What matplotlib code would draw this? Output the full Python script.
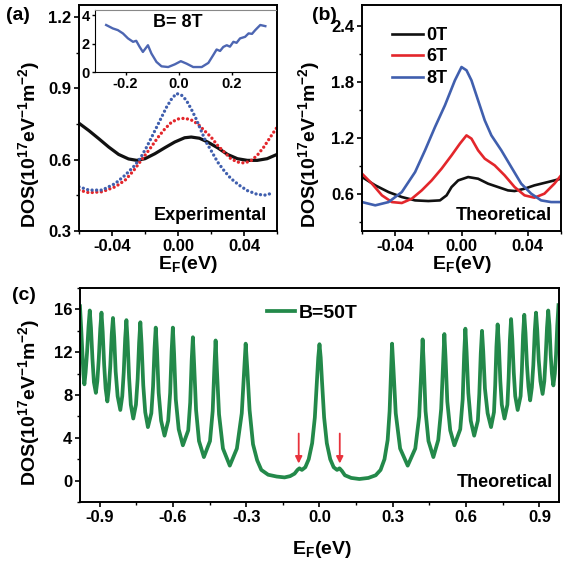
import matplotlib
matplotlib.use('Agg')
import matplotlib.pyplot as plt
from matplotlib.ticker import MultipleLocator, FormatStrFormatter

plt.rcParams['font.family'] = ['Liberation Sans', 'DejaVu Sans']
plt.rcParams['font.weight'] = 'bold'
plt.rcParams['mathtext.fontset'] = 'custom'
plt.rcParams['mathtext.rm'] = 'Liberation Sans:bold'
plt.rcParams['mathtext.it'] = 'Liberation Sans:bold'
plt.rcParams['mathtext.bf'] = 'Liberation Sans:bold'
plt.rcParams['mathtext.default'] = 'rm'

# (a) experimental DOS near the Dirac point
a_x0 = [-0.060, -0.054, -0.048, -0.042, -0.036, -0.030, -0.025, -0.020, -0.014, -0.008, -0.002,
        0.004, 0.008, 0.013, 0.018, 0.024, 0.030, 0.036, 0.042, 0.048, 0.054, 0.060]
a_y0 = [0.753, 0.722, 0.688, 0.653, 0.622, 0.603, 0.597, 0.604, 0.625, 0.650, 0.674,
        0.692, 0.695, 0.690, 0.674, 0.650, 0.622, 0.604, 0.597, 0.597, 0.604, 0.622]
a_x6 = [-0.060, -0.054, -0.046, -0.038, -0.032, -0.027, -0.022, -0.017, -0.012, -0.008, -0.004,
        0.000, 0.004, 0.008, 0.012, 0.016, 0.020, 0.024, 0.028, 0.032, 0.036, 0.040, 0.044,
        0.048, 0.052, 0.056, 0.060]
a_y6 = [0.472, 0.461, 0.465, 0.486, 0.514, 0.553, 0.600, 0.646, 0.695, 0.729, 0.757,
        0.771, 0.774, 0.767, 0.750, 0.722, 0.695, 0.660, 0.632, 0.604, 0.590, 0.586, 0.594,
        0.618, 0.653, 0.695, 0.736]
a_x8 = [-0.060, -0.054, -0.046, -0.038, -0.032, -0.027, -0.023, -0.019, -0.015, -0.011, -0.007,
        -0.004, -0.001, 0.002, 0.005, 0.008, 0.011, 0.014, 0.017, 0.020, 0.024, 0.028, 0.032,
        0.037, 0.042, 0.048, 0.053, 0.058]
a_y8 = [0.486, 0.472, 0.472, 0.500, 0.535, 0.570, 0.604, 0.653, 0.708, 0.764, 0.820,
        0.854, 0.878, 0.872, 0.850, 0.813, 0.771, 0.722, 0.674, 0.639, 0.590, 0.553, 0.521,
        0.493, 0.470, 0.454, 0.451, 0.461]

# inset, B = 8T over a wide range
in_x = [-0.273, -0.248, -0.229, -0.210, -0.191, -0.172, -0.160, -0.147, -0.135, -0.116, -0.103,
        -0.084, -0.065, -0.040, -0.015, 0.0075, 0.029, 0.054, 0.086, 0.111, 0.129, 0.142, 0.155,
        0.167, 0.180, 0.192, 0.205, 0.217, 0.230, 0.249, 0.262, 0.275, 0.287, 0.306, 0.325]
in_y = [3.30, 3.06, 2.94, 2.71, 2.36, 2.12, 2.19, 1.76, 1.41, 1.88, 1.30,
        0.71, 0.40, 0.35, 0.54, 0.76, 0.59, 0.35, 0.35, 0.64, 1.18, 1.58, 1.48,
        1.76, 1.88, 1.78, 2.12, 2.05, 2.36, 2.47, 2.71, 2.68, 2.94, 3.30, 3.22]

# (b) theoretical DOS
b_x0 = [-0.060, -0.052, -0.044, -0.036, -0.028, -0.020, -0.013, -0.009, -0.006, -0.002, 0.004,
        0.010, 0.016, 0.022, 0.028, 0.032, 0.038, 0.044, 0.052, 0.060]
b_y0 = [0.778, 0.689, 0.617, 0.564, 0.528, 0.521, 0.528, 0.582, 0.671, 0.742, 0.778,
        0.760, 0.707, 0.671, 0.635, 0.628, 0.653, 0.689, 0.724, 0.760]
b_x6 = [-0.060, -0.054, -0.048, -0.042, -0.036, -0.030, -0.024, -0.018, -0.012, -0.006, -0.001,
        0.003, 0.006, 0.010, 0.014, 0.020, 0.026, 0.032, 0.038, 0.044, 0.050, 0.056, 0.060]
b_y6 = [0.814, 0.707, 0.582, 0.510, 0.500, 0.546, 0.635, 0.742, 0.868, 1.010, 1.135,
        1.224, 1.189, 1.064, 0.975, 0.903, 0.796, 0.671, 0.582, 0.557, 0.600, 0.707, 0.796]
b_x8 = [-0.060, -0.052, -0.044, -0.036, -0.028, -0.022, -0.016, -0.010, -0.004, 0.000, 0.003,
        0.006, 0.010, 0.014, 0.018, 0.024, 0.030, 0.036, 0.042, 0.048, 0.054, 0.060]
b_y8 = [0.510, 0.475, 0.510, 0.617, 0.831, 1.064, 1.313, 1.546, 1.813, 1.956, 1.921,
        1.813, 1.599, 1.385, 1.224, 1.064, 0.885, 0.707, 0.600, 0.528, 0.510, 0.510]

# (c) theoretical DOS at B = 50T, traced point by point
c_x = [-0.980, -0.975, -0.970, -0.966, -0.962,
       -0.957, -0.951, -0.945, -0.940, -0.935, -0.929, -0.923, -0.915,
       -0.909, -0.903, -0.897, -0.892, -0.887, -0.881, -0.875, -0.868,
       -0.862, -0.856, -0.850, -0.845, -0.840, -0.834, -0.826, -0.815,
       -0.807, -0.801, -0.795, -0.790, -0.785, -0.779, -0.772, -0.762,
       -0.751, -0.744, -0.738, -0.733, -0.728, -0.721, -0.713, -0.702,
       -0.688, -0.681, -0.675, -0.670, -0.665, -0.658, -0.648, -0.634,
       -0.619, -0.611, -0.605, -0.600, -0.595, -0.588, -0.576, -0.559,
       -0.537, -0.529, -0.523, -0.518, -0.513, -0.505, -0.493, -0.473,
       -0.448, -0.437, -0.430, -0.425, -0.420, -0.411, -0.395, -0.367,
       -0.338, -0.318, -0.309, -0.302, -0.295, -0.286, -0.272, -0.255,
       -0.238, -0.210, -0.175, -0.143, -0.120, -0.102, -0.090, -0.082,
       -0.072, -0.058, -0.044, -0.030, -0.019, -0.010, -0.005, 0.000,
       0.005, 0.010, 0.019, 0.030, 0.044, 0.058, 0.072, 0.082,
       0.092, 0.104, 0.130, 0.163, 0.200, 0.230, 0.250, 0.266,
       0.279, 0.287, 0.292, 0.297, 0.303, 0.312, 0.330, 0.361,
       0.392, 0.408, 0.417, 0.422, 0.427, 0.434, 0.446, 0.466,
       0.486, 0.498, 0.506, 0.511, 0.516, 0.523, 0.535, 0.552,
       0.576, 0.586, 0.592, 0.597, 0.602, 0.609, 0.619, 0.633,
       0.648, 0.654, 0.660, 0.665, 0.670, 0.677, 0.688, 0.702,
       0.714, 0.719, 0.724, 0.729, 0.734, 0.740, 0.746, 0.757,
       0.769, 0.774, 0.779, 0.784, 0.789, 0.795, 0.801, 0.811,
       0.823, 0.828, 0.833, 0.838, 0.843, 0.849, 0.855, 0.862,
       0.869, 0.875, 0.881, 0.886, 0.891, 0.897, 0.904, 0.913,
       0.920, 0.925, 0.931, 0.936, 0.941, 0.946, 0.951, 0.957,
       0.963, 0.968, 0.973, 0.978]
c_y = [16.3, 14.2, 11.8, 10.0, 9.0,
       10.1, 12.0, 14.4, 15.9, 14.3, 11.4, 9.2, 8.2,
       9.3, 11.4, 14.2, 15.7, 13.9, 10.8, 8.6, 7.4,
       8.6, 10.7, 13.7, 15.2, 13.4, 10.2, 7.9, 6.6,
       7.9, 10.1, 13.3, 15.0, 13.0, 9.6, 7.1, 5.8,
       7.1, 9.5, 12.9, 14.8, 12.8, 8.9, 6.4, 5.0,
       6.3, 8.8, 12.3, 14.3, 12.2, 8.2, 5.6, 4.2,
       5.6, 8.2, 12.1, 14.3, 11.9, 7.6, 4.8, 3.3,
       4.7, 7.3, 11.2, 13.4, 10.9, 6.6, 3.7, 2.2,
       3.7, 6.5, 10.6, 13.1, 10.5, 6.2, 3.0, 1.4,
       3.0, 6.3, 10.0, 12.8, 10.3, 6.6, 3.4, 1.9,
       1.0, 0.55, 0.38, 0.3, 0.42, 0.65, 1.0, 1.15,
       1.0, 1.25, 2.0, 3.5, 5.9, 9.4, 11.5, 12.75,
       11.5, 9.4, 5.9, 3.5, 2.0, 1.25, 1.0, 1.15,
       0.9, 0.5, 0.25, 0.15, 0.25, 0.5, 1.0, 2.0,
       3.8, 6.5, 9.8, 12.8, 10.3, 6.3, 3.0, 1.4,
       3.0, 6.0, 10.4, 13.2, 10.7, 6.5, 3.7, 2.2,
       3.8, 6.7, 11.0, 13.7, 11.4, 7.4, 4.7, 3.3,
       4.8, 7.6, 11.8, 14.2, 12.0, 8.2, 5.6, 4.2,
       5.6, 8.1, 11.9, 14.0, 12.1, 8.6, 6.3, 5.0,
       6.4, 8.9, 12.5, 14.6, 12.7, 9.3, 7.1, 5.8,
       7.1, 9.6, 13.1, 15.1, 13.2, 10.1, 7.9, 6.6,
       7.9, 10.2, 13.6, 15.5, 13.8, 10.8, 8.8, 7.5,
       8.7, 10.8, 14.0, 15.7, 14.1, 11.3, 9.3, 8.1,
       9.3, 11.3, 14.3, 15.9, 14.5, 11.8, 10.0, 8.9,
       10.0, 11.8, 14.5, 16.4]
arrow_x = [-0.085, 0.083]

black = '#111111'
red = '#e3262b'
blue = '#405fae'
green = '#23894a'

fig = plt.figure(figsize=(5.66, 5.64), dpi=100)
ax_a = fig.add_axes([0.1396, 0.5904, 0.3498, 0.4007])
ax_b = fig.add_axes([0.6396, 0.5904, 0.3516, 0.4007])
ax_c = fig.add_axes([0.1413, 0.1099, 0.8463, 0.3794])
ax_in = fig.add_axes([0.1678, 0.8723, 0.3198, 0.1099])

dots = (0, (0.01, 1.35))
ax_a.plot(a_x0, a_y0, color=black, lw=2.3, solid_capstyle='round')
ax_a.plot(a_x6, a_y6, color=red, lw=2.4, ls=dots, dash_capstyle='round')
ax_a.plot(a_x8, a_y8, color=blue, lw=2.4, ls=dots, dash_capstyle='round')
ax_a.set_xlim(-0.06, 0.06)
ax_a.set_ylim(0.3, 1.25)
ax_a.xaxis.set_major_locator(MultipleLocator(0.04))
ax_a.xaxis.set_minor_locator(MultipleLocator(0.02))
ax_a.xaxis.set_major_formatter(FormatStrFormatter('%.2f'))
ax_a.yaxis.set_major_locator(MultipleLocator(0.3))
ax_a.yaxis.set_minor_locator(MultipleLocator(0.15))
ax_a.yaxis.set_major_formatter(FormatStrFormatter('%.1f'))
ax_a.text(0.95, 0.03, 'Experimental', transform=ax_a.transAxes, ha='right', va='bottom',
          fontsize=13, fontweight='bold')

ax_in.plot(in_x, in_y, color='#4d66b2', lw=1.7, solid_joinstyle='round')
ax_in.set_xlim(-0.315, 0.365)
ax_in.set_ylim(0, 4.35)
ax_in.xaxis.set_major_locator(MultipleLocator(0.2))
ax_in.xaxis.set_major_formatter(FormatStrFormatter('%.1f'))
ax_in.yaxis.set_major_locator(MultipleLocator(2))
ax_in.tick_params(labelsize=10.5, length=2.5, width=1, pad=1)
ax_in.spines['right'].set_visible(False)
ax_in.spines['top'].set_color('#888888')
ax_in.text(0.46, 0.8, 'B= 8T', transform=ax_in.transAxes, ha='center', va='center',
           fontsize=13, fontweight='bold')

ax_b.plot(b_x0, b_y0, color=black, lw=1.9, label='0T')
ax_b.plot(b_x6, b_y6, color=red, lw=1.9, label='6T')
ax_b.plot(b_x8, b_y8, color=blue, lw=1.9, label='8T')
ax_b.set_xlim(-0.06, 0.06)
ax_b.set_ylim(0.2, 2.62)
ax_b.xaxis.set_major_locator(MultipleLocator(0.04))
ax_b.xaxis.set_minor_locator(MultipleLocator(0.02))
ax_b.xaxis.set_major_formatter(FormatStrFormatter('%.2f'))
ax_b.yaxis.set_major_locator(MultipleLocator(0.6))
ax_b.yaxis.set_minor_locator(MultipleLocator(0.3))
ax_b.yaxis.set_major_formatter(FormatStrFormatter('%.1f'))
ax_b.legend(loc='upper left', bbox_to_anchor=(0.07, 0.975), frameon=False, fontsize=13,
            handlelength=1.7, handletextpad=0.2, labelspacing=0.25)
ax_b.text(0.955, 0.03, 'Theoretical', transform=ax_b.transAxes, ha='right', va='bottom',
          fontsize=13, fontweight='bold')

ax_c.plot(c_x, c_y, color=green, lw=2.7, label='B=50T', solid_joinstyle='round')
for xa in arrow_x:
    ax_c.annotate('', xy=(xa, 1.6), xytext=(xa, 4.4),
                  arrowprops=dict(arrowstyle='-|>', color='#e8323c', lw=1.3,
                                  mutation_scale=10, shrinkA=0, shrinkB=0))
ax_c.set_xlim(-0.98, 0.98)
ax_c.set_ylim(-2, 18)
ax_c.xaxis.set_major_locator(MultipleLocator(0.3))
ax_c.xaxis.set_minor_locator(MultipleLocator(0.15))
ax_c.xaxis.set_major_formatter(FormatStrFormatter('%.1f'))
ax_c.yaxis.set_major_locator(MultipleLocator(4))
ax_c.yaxis.set_minor_locator(MultipleLocator(2))
ax_c.legend(loc='center', bbox_to_anchor=(0.485, 0.883), frameon=False, fontsize=14,
            handlelength=1.4, handletextpad=0.2)
ax_c.text(0.987, 0.05, 'Theoretical', transform=ax_c.transAxes, ha='right', va='bottom',
          fontsize=13, fontweight='bold')

ylab = 'DOS(10$^{17}$eV$^{-1}$m$^{-2}$)'
xlab = 'E$_{F}$(eV)'
for ax in (ax_a, ax_b, ax_c):
    ax.tick_params(which='major', direction='out', length=3.5, width=1.2, labelsize=12, pad=2)
    ax.tick_params(which='minor', direction='out', length=2, width=1.0)
    for sp in ax.spines.values():
        sp.set_linewidth(1.4)
    ax.set_ylabel(ylab, fontsize=14, fontweight='bold')
    ax.set_xlabel(xlab, fontsize=14, fontweight='bold')
for lab in ax_a.get_xticklabels() + ax_a.get_yticklabels() + ax_b.get_xticklabels() + \
        ax_b.get_yticklabels() + ax_c.get_xticklabels() + ax_c.get_yticklabels() + \
        ax_in.get_xticklabels() + ax_in.get_yticklabels():
    lab.set_fontweight('bold')

ax_a.yaxis.set_label_coords(-0.187, 0.385)
ax_b.yaxis.set_label_coords(-0.201, 0.385)
ax_c.yaxis.set_label_coords(-0.079, 0.467)
ax_a.xaxis.set_label_coords(0.55, -0.1)
ax_b.xaxis.set_label_coords(0.5, -0.1)
ax_c.xaxis.set_label_coords(0.505, -0.175)

fig.text(6 / 566, 1 - 15 / 564, '(a)', fontsize=14, fontweight='bold', va='center')
fig.text(312 / 566, 1 - 15 / 564, '(b)', fontsize=14, fontweight='bold', va='center')
fig.text(12 / 566, 1 - 295 / 564, '(c)', fontsize=14, fontweight='bold', va='center')

fig.savefig('out.png', dpi=100)
